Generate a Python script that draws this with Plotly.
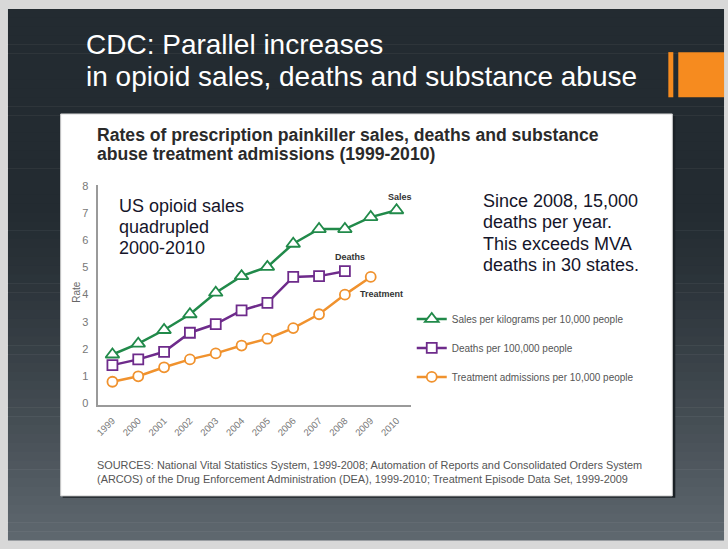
import plotly.graph_objects as go

# ---- data ----
years = [1999, 2000, 2001, 2002, 2003, 2004, 2005, 2006, 2007, 2008, 2009, 2010]
year_labels = [str(y) for y in years]
sales = [1.80, 2.20, 2.70, 3.28, 4.07, 4.68, 5.02, 5.87, 6.41, 6.41, 6.85, 7.10]
death_years = [1999, 2000, 2001, 2002, 2003, 2004, 2005, 2006, 2007, 2008]
deaths = [1.41, 1.62, 1.90, 2.60, 2.92, 3.42, 3.70, 4.65, 4.68, 4.86]
treat_years = [1999, 2000, 2001, 2002, 2003, 2004, 2005, 2006, 2007, 2008, 2009]
treatment = [0.80, 1.00, 1.33, 1.62, 1.84, 2.13, 2.38, 2.77, 3.28, 4.00, 4.65]
y_ticks = [0, 1, 2, 3, 4, 5, 6, 7, 8]

series_names = ["Sales per kilograms per 10,000 people",
                "Deaths per 100,000 people",
                "Treatment admissions per 10,000 people"]
series_tags = ["Sales", "Deaths", "Treatment"]

title_lines = ["CDC: Parallel increases", "in opioid sales, deaths and substance abuse"]
subtitle_lines = ["Rates of prescription painkiller sales, deaths and substance",
                  "abuse treatment admissions (1999-2010)"]
note_left = ["US opioid sales", "quadrupled", "2000-2010"]
note_right = ["Since 2008, 15,000", "deaths per year.", "This exceeds MVA", "deaths in 30 states."]
sources_text = ("SOURCES: National Vital Statistics System, 1999-2008; Automation of Reports and Consolidated Orders System<br>"
                "(ARCOS) of the Drug Enforcement Administration (DEA), 1999-2010; Treatment Episode Data Set, 1999-2009")

W, H = 728, 549
GREEN, PURPLE, ORANGE = "#218a4a", "#6e2b8b", "#f0922e"


def px(x):
    return x / W


def py(y):
    return 1 - y / H


fig = go.Figure()

fig.add_trace(go.Scatter(
    x=years, y=sales, mode="lines+markers", name=series_names[0], legendgroup="a",
    line=dict(color=GREEN, width=2.5),
    marker=dict(symbol="triangle-up", size=12, color="white", line=dict(color=GREEN, width=1.8))))
fig.add_trace(go.Scatter(
    x=death_years, y=deaths, mode="lines+markers", name=series_names[1], legendgroup="b",
    line=dict(color=PURPLE, width=2.5),
    marker=dict(symbol="square", size=10, color="white", line=dict(color=PURPLE, width=1.8))))
fig.add_trace(go.Scatter(
    x=treat_years, y=treatment, mode="lines+markers", name=series_names[2], legendgroup="c",
    line=dict(color=ORANGE, width=2.5),
    marker=dict(symbol="circle", size=10, color="white", line=dict(color=ORANGE, width=1.8))))

shapes = []
# dark slide with vertical gradient over a light frame (paper)
top_c = (0x23, 0x2b, 0x31)
bot_c = (0x60, 0x69, 0x70)
y0, y1 = 4, 545
n = 60
for i in range(n):
    a = y0 + (y1 - y0) * i / n
    b = y0 + (y1 - y0) * (i + 1) / n
    mid = (a + b) / 2
    t = max(0.0, (mid - 200) / (y1 - 200))
    t = t ** 1.3
    c = tuple(int(top_c[k] + (bot_c[k] - top_c[k]) * t) for k in range(3))
    shapes.append(dict(type="rect", xref="paper", yref="paper", layer="below",
                       x0=px(4), x1=px(724), y0=py(b + 0.5), y1=py(a),
                       fillcolor="rgb(%d,%d,%d)" % c, line=dict(width=0)))
# orange accents
shapes.append(dict(type="rect", xref="paper", yref="paper", layer="below",
                   x0=px(668), x1=px(673), y0=py(94), y1=py(48),
                   fillcolor="#f68b1f", line=dict(width=0)))
shapes.append(dict(type="rect", xref="paper", yref="paper", layer="below",
                   x0=px(678), x1=px(724), y0=py(94), y1=py(48),
                   fillcolor="#f68b1f", line=dict(width=0)))
# panel shadow + white panel
shapes.append(dict(type="rect", xref="paper", yref="paper", layer="below",
                   x0=px(59), x1=px(675), y0=py(502), y1=py(113),
                   fillcolor="#1b2126", line=dict(width=0)))
shapes.append(dict(type="rect", xref="paper", yref="paper", layer="below",
                   x0=px(57), x1=px(672), y0=py(500), y1=py(111),
                   fillcolor="white", line=dict(color="#d0d0d0", width=1)))

annotations = []


def text_line(x, y, txt, size, color, anchor="top", bold=False):
    annotations.append(dict(
        xref="paper", yref="paper", x=px(x), y=py(y), xanchor="left", yanchor=anchor,
        text=("<b>%s</b>" % txt) if bold else txt, showarrow=False, align="left",
        font=dict(family="Liberation Sans, Arial", size=size, color=color)))


# slide title
text_line(80, 22, title_lines[0], 28, "white")
text_line(80, 55, title_lines[1], 28, "white")
# chart subtitle
text_line(91, 120, subtitle_lines[0], 17.6, "#2a2a2a", bold=True)
text_line(91, 140, subtitle_lines[1], 17.6, "#2a2a2a", bold=True)
# notes
for i, s in enumerate(note_left):
    text_line(114, [205, 226, 247][i], s, 18, "#15152a", anchor="middle")
for i, s in enumerate(note_right):
    text_line(480, [200, 221, 243, 265][i], s, 18, "#15152a", anchor="middle")
# sources
text_line(91, 460, sources_text, 10.9, "#555555")

# series tags near line ends
tag_font = dict(family="Liberation Sans, Arial", size=9, color="#333333")
annotations.append(dict(xref="x", yref="y", x=years[-1], y=sales[-1], text="<b>%s</b>" % series_tags[0],
                        showarrow=False, yshift=13, xshift=3, font=tag_font))
annotations.append(dict(xref="x", yref="y", x=death_years[-1], y=deaths[-1], text="<b>%s</b>" % series_tags[1],
                        showarrow=False, yshift=14, xshift=5, font=tag_font))
annotations.append(dict(xref="x", yref="y", x=treat_years[-1], y=treatment[-1], text="<b>%s</b>" % series_tags[2],
                        showarrow=False, yshift=-17, xshift=11, font=tag_font))
# axis title
annotations.append(dict(
    xref="paper", yref="paper", x=px(66), y=py(292), text="Rate", textangle=-90,
    showarrow=False, font=dict(family="Liberation Sans, Arial", size=10, color="#666666")))

fig.update_layout(
    width=W, height=H, autosize=False,
    margin=dict(l=0, r=0, t=0, b=0),
    paper_bgcolor="#d8d8d8",
    plot_bgcolor="rgba(0,0,0,0)",
    shapes=shapes, annotations=annotations,
    showlegend=True,
    legend=dict(x=px(410), y=py(305), xanchor="left", yanchor="top",
                bgcolor="rgba(0,0,0,0)", tracegroupgap=10, itemwidth=30,
                font=dict(family="Liberation Sans, Arial", size=10, color="#555555")),
    xaxis=dict(domain=[px(95), px(409)], range=[1998.46, 2010.55],
               tickmode="array", tickvals=years, ticktext=year_labels, tickangle=-45,
               showgrid=False, zeroline=False, showline=True, linecolor="#9a9a9a", linewidth=2,
               ticks="", ticklabelstandoff=5,
               tickfont=dict(family="Liberation Sans, Arial", size=9.5, color="#777777")),
    yaxis=dict(domain=[py(407), py(183)], range=[-0.04, 8.04],
               tickmode="array", tickvals=y_ticks, ticktext=[str(v) for v in y_ticks],
               showgrid=False, zeroline=False, showline=True, linecolor="#9a9a9a", linewidth=2,
               ticks="", ticklabelstandoff=6,
               tickfont=dict(family="Liberation Sans, Arial", size=11, color="#777777")),
)

fig.write_html("out.html", config={"displayModeBar": False},
               post_script="document.body.style.margin='0';")
